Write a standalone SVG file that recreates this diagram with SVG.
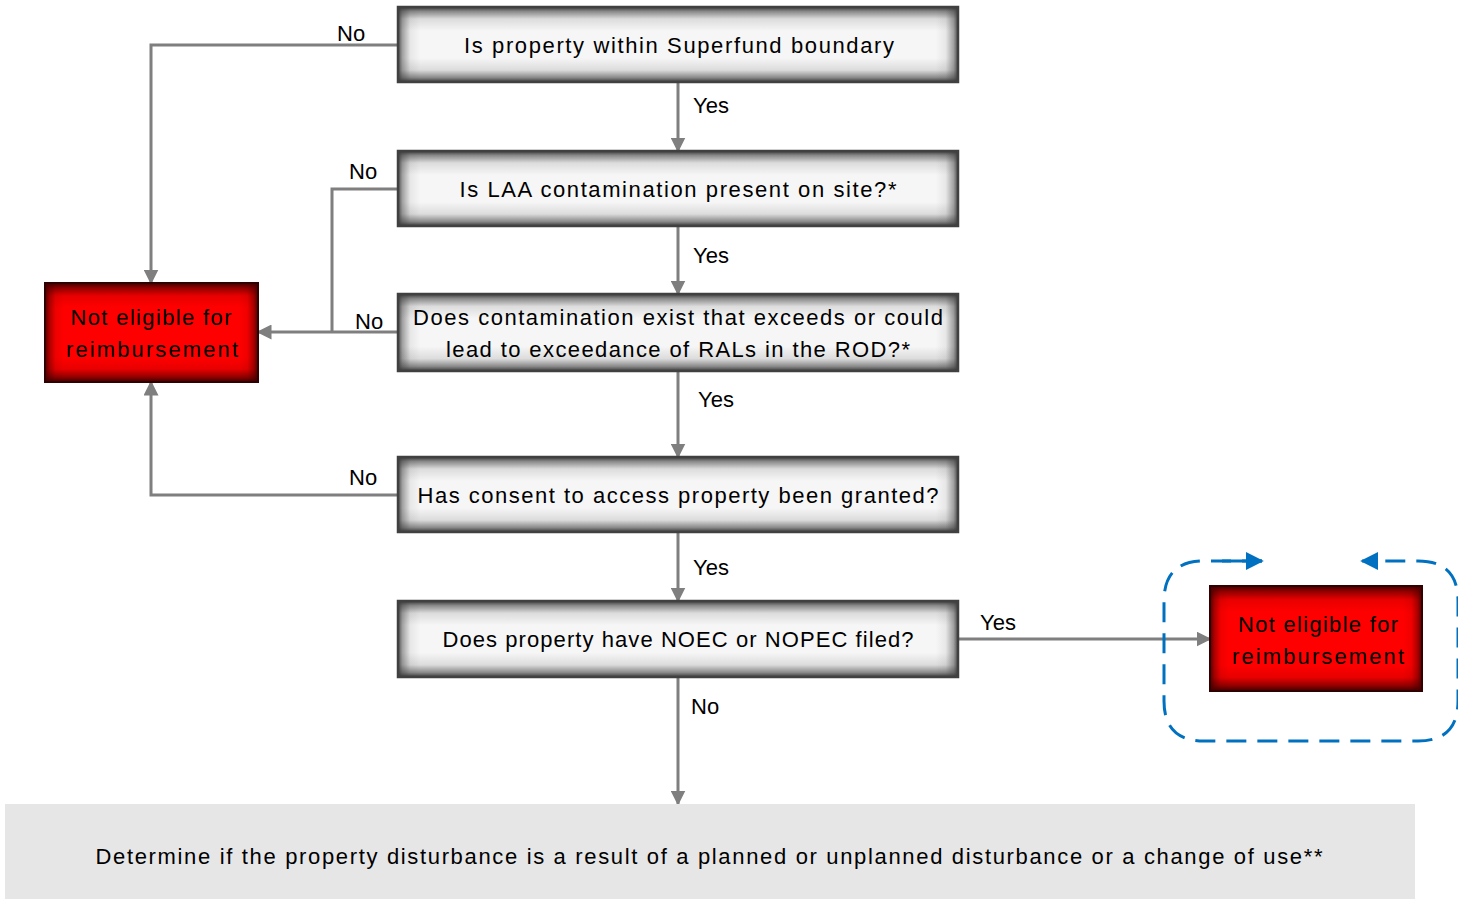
<svg xmlns="http://www.w3.org/2000/svg" width="1458" height="899" viewBox="0 0 1458 899">
<defs>
<style>
text{font-family:"Liberation Sans",Arial,sans-serif;font-size:22px;fill:#000;}
.c{text-anchor:middle;}
.q{fill:url(#gv);}
.qh{fill:url(#gh);stroke:#404040;stroke-width:2.5;}
.r{fill:url(#rv);}
.rh{fill:url(#rh);stroke:#300000;stroke-width:2;}
.ln{fill:none;stroke:#7f7f7f;stroke-width:3;}
.ar{marker-end:url(#ah);}
</style>
<linearGradient id="gv" x1="0" y1="0" x2="0" y2="1">
<stop offset="0" stop-color="#3a3a3a"/>
<stop offset="0.06" stop-color="#8a8a8a"/>
<stop offset="0.16" stop-color="#dcdcdc"/>
<stop offset="0.32" stop-color="#f6f6f6"/>
<stop offset="0.68" stop-color="#f6f6f6"/>
<stop offset="0.84" stop-color="#dcdcdc"/>
<stop offset="0.94" stop-color="#8a8a8a"/>
<stop offset="1" stop-color="#3a3a3a"/>
</linearGradient>
<linearGradient id="gh" gradientUnits="userSpaceOnUse" x1="398" y1="0" x2="958" y2="0">
<stop offset="0" stop-color="#3a3a3a" stop-opacity="0.9"/>
<stop offset="0.008" stop-color="#3a3a3a" stop-opacity="0.45"/>
<stop offset="0.022" stop-color="#3a3a3a" stop-opacity="0.08"/>
<stop offset="0.04" stop-color="#3a3a3a" stop-opacity="0"/>
<stop offset="0.96" stop-color="#3a3a3a" stop-opacity="0"/>
<stop offset="0.978" stop-color="#3a3a3a" stop-opacity="0.08"/>
<stop offset="0.992" stop-color="#3a3a3a" stop-opacity="0.45"/>
<stop offset="1" stop-color="#3a3a3a" stop-opacity="0.9"/>
</linearGradient>
<linearGradient id="rv" x1="0" y1="0" x2="0" y2="1">
<stop offset="0" stop-color="#400000"/>
<stop offset="0.05" stop-color="#900000"/>
<stop offset="0.13" stop-color="#e80000"/>
<stop offset="0.25" stop-color="#ff0000"/>
<stop offset="0.75" stop-color="#ff0000"/>
<stop offset="0.87" stop-color="#e80000"/>
<stop offset="0.95" stop-color="#900000"/>
<stop offset="1" stop-color="#400000"/>
</linearGradient>
<linearGradient id="rh" x1="0" y1="0" x2="1" y2="0">
<stop offset="0" stop-color="#400000" stop-opacity="0.9"/>
<stop offset="0.02" stop-color="#400000" stop-opacity="0.45"/>
<stop offset="0.05" stop-color="#400000" stop-opacity="0.08"/>
<stop offset="0.09" stop-color="#400000" stop-opacity="0"/>
<stop offset="0.91" stop-color="#400000" stop-opacity="0"/>
<stop offset="0.95" stop-color="#400000" stop-opacity="0.08"/>
<stop offset="0.98" stop-color="#400000" stop-opacity="0.45"/>
<stop offset="1" stop-color="#400000" stop-opacity="0.9"/>
</linearGradient>
<marker id="ah" viewBox="0 0 10 10" refX="9" refY="5" markerWidth="5" markerHeight="5" orient="auto" markerUnits="strokeWidth">
<path d="M0,0L10,5L0,10z" fill="#7f7f7f"/>
</marker>
<marker id="bh" viewBox="0 0 10 10" refX="9" refY="5" markerWidth="6" markerHeight="6" orient="auto" markerUnits="strokeWidth">
<path d="M0,0L10,5L0,10z" fill="#0070c0"/>
</marker>
</defs>
<rect width="1458" height="899" fill="#fff"/>

<g id="connectors">
<path class="ln ar" d="M678,82V151"/>
<path class="ln ar" d="M678,226V294"/>
<path class="ln ar" d="M678,371V457"/>
<path class="ln ar" d="M678,532V601"/>
<path class="ln ar" d="M678,677V804"/>
<path class="ln ar" d="M398,45H151V283"/>
<path class="ln" d="M398,189H332V332"/>
<path class="ln ar" d="M398,332H258"/>
<path class="ln ar" d="M398,495H151V382"/>
<path class="ln ar" d="M958,639H1210"/>
<text x="337" y="41">No</text>
<text x="693" y="113">Yes</text>
<text x="349" y="179">No</text>
<text x="693" y="263">Yes</text>
<text x="355" y="329">No</text>
<text x="698" y="407">Yes</text>
<text x="349" y="485">No</text>
<text x="693" y="575">Yes</text>
<text x="980" y="630">Yes</text>
<text x="691" y="714">No</text>
</g>

<g id="loop">
<path d="M1262,561H1204Q1164,561 1164,601V701Q1164,741 1204,741H1418Q1458,741 1458,701V601Q1458,561 1418,561H1362" fill="none" stroke="#0070c0" stroke-width="3" stroke-dasharray="20,11" marker-end="url(#bh)"/>
<path d="M1222,561H1262" fill="none" stroke="#0070c0" stroke-width="3" marker-end="url(#bh)"/>
</g>

<g id="q1"><rect class="q" x="398" y="7" width="560" height="75"/><rect class="qh" x="398" y="7" width="560" height="75"/><text class="c" x="679" y="53" textLength="430">Is property within Superfund boundary</text></g>
<g id="q2"><rect class="q" x="398" y="151" width="560" height="75"/><rect class="qh" x="398" y="151" width="560" height="75"/><text class="c" x="678" y="197" textLength="437">Is LAA contamination present on site?*</text></g>
<g id="q3"><rect class="q" x="398" y="294" width="560" height="77"/><rect class="qh" x="398" y="294" width="560" height="77"/><text class="c" x="678" y="325" textLength="530">Does contamination exist that exceeds or could</text><text class="c" x="678" y="357" textLength="464">lead to exceedance of RALs in the ROD?*</text></g>
<g id="q4"><rect class="q" x="398" y="457" width="560" height="75"/><rect class="qh" x="398" y="457" width="560" height="75"/><text class="c" x="678" y="503" textLength="521">Has consent to access property been granted?</text></g>
<g id="q5"><rect class="q" x="398" y="601" width="560" height="76"/><rect class="qh" x="398" y="601" width="560" height="76"/><text class="c" x="678" y="647" textLength="471">Does property have NOEC or NOPEC filed?</text></g>

<g id="ne1"><rect class="r" x="45" y="283" width="213" height="99"/><rect class="rh" x="45" y="283" width="213" height="99"/><text class="c" x="151" y="325" textLength="161">Not eligible for</text><text class="c" x="152" y="357" textLength="172">reimbursement</text></g>
<g id="ne2"><rect class="r" x="1210" y="586" width="212" height="105"/><rect class="rh" x="1210" y="586" width="212" height="105"/><text class="c" x="1318" y="632" textLength="160">Not eligible for</text><text class="c" x="1318" y="664" textLength="172">reimbursement</text></g>

<g id="final"><rect x="5" y="804" width="1410" height="95" fill="#e6e6e6"/><text class="c" x="709" y="864" textLength="1227">Determine if the property disturbance is a result of a planned or unplanned disturbance or a change of use**</text></g>
</svg>
